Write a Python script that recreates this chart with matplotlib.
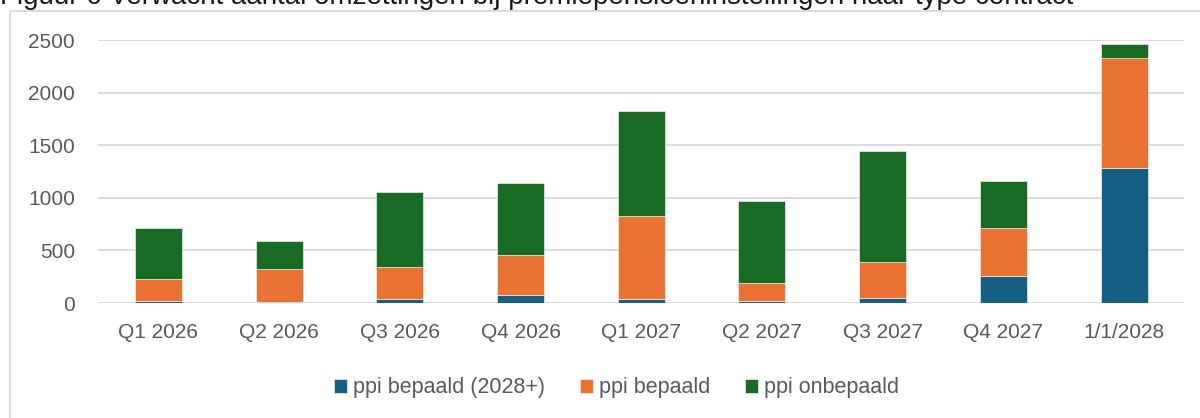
import matplotlib.pyplot as plt
import numpy as np
from matplotlib.patches import Rectangle

categories = ["Q1 2026", "Q2 2026", "Q3 2026", "Q4 2026", "Q1 2027",
              "Q2 2027", "Q3 2027", "Q4 2027", "1/1/2028"]
bepaald_2028 = [15, 12, 34, 79, 38, 22, 44, 253, 1280]
bepaald = [216, 311, 311, 380, 792, 171, 342, 460, 1050]
onbepaald = [482, 263, 710, 682, 997, 779, 1059, 447, 135]

series_names = ["ppi bepaald (2028+)", "ppi bepaald", "ppi onbepaald"]
colors = ["#156082", "#E97132", "#196B24"]

plt.rcParams['font.family'] = ['Liberation Sans', 'DejaVu Sans']

fig = plt.figure(figsize=(12, 4.18), dpi=100)
ax = fig.add_axes([0.0817, 0.275, 0.9053, 0.629])

x = np.arange(len(categories))
bottom = np.zeros(len(categories))
for vals, name, c in zip([bepaald_2028, bepaald, onbepaald], series_names, colors):
    ax.bar(x, vals, 0.39, bottom=bottom, color=c, label=name,
           edgecolor='white', linewidth=0.4, zorder=3)
    bottom += np.array(vals)

ax.set_xlim(-0.5, len(categories) - 0.5)
ax.set_ylim(0, 2500)
ax.set_yticks(range(0, 2501, 500))
ax.set_xticks(x)
ax.set_xticklabels(categories)
ax.grid(axis='y', color='#d9d9d9', linewidth=1.3, zorder=0)
for s in ax.spines.values():
    s.set_visible(False)
ax.tick_params(length=0, labelsize=15, colors='#595959')
ax.tick_params(axis='y', pad=16.5)
ax.tick_params(axis='x', pad=14.5)

leg = ax.legend(loc='center', bbox_to_anchor=(0.477, -0.323), ncol=3,
                frameon=False, fontsize=15.5,
                handlelength=0.6, handleheight=0.6,
                handletextpad=0.28, columnspacing=1.63)
for t in leg.get_texts():
    t.set_color('#595959')

# chart frame, partly outside the canvas
fig.patches.append(Rectangle((10 / 1200, -0.1), 1.2, (418 - 11) / 418 + 0.1,
                             transform=fig.transFigure, fill=False,
                             edgecolor='#d9d9d9', linewidth=1.3))

fig.text(0.0, 1.0 - 4 / 418,
         "Figuur 6 Verwacht aantal omzettingen bij premiepensioeninstellingen naar type contract",
         fontsize=20, color='#1a1a1a', ha='left', va='baseline')

fig.savefig("out.png", dpi=100)
